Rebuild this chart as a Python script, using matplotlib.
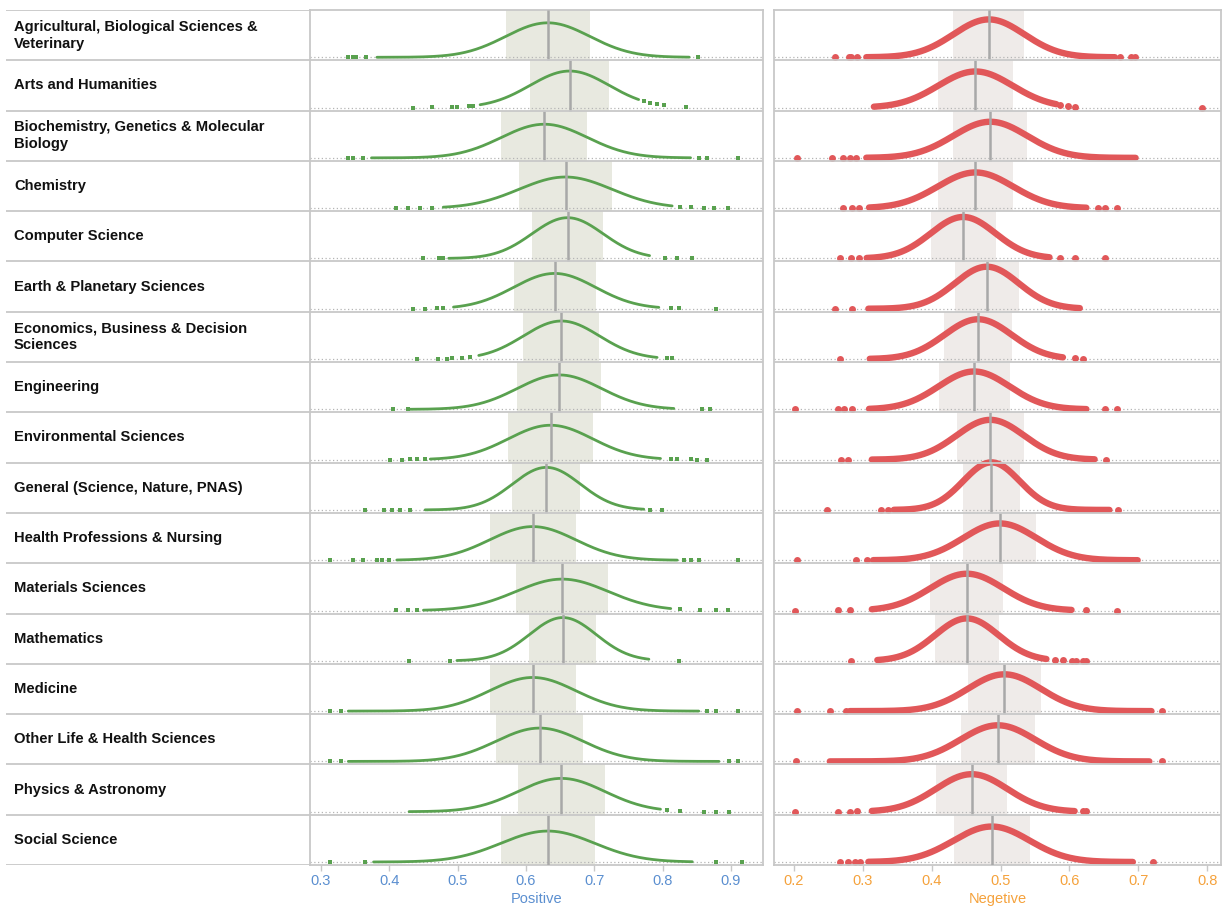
import numpy as np
import matplotlib
matplotlib.use("Agg")
import matplotlib.pyplot as plt

categories = [
    "Agricultural, Biological Sciences &\nVeterinary",
    "Arts and Humanities",
    "Biochemistry, Genetics & Molecular\nBiology",
    "Chemistry",
    "Computer Science",
    "Earth & Planetary Sciences",
    "Economics, Business & Decision\nSciences",
    "Engineering",
    "Environmental Sciences",
    "General (Science, Nature, PNAS)",
    "Health Professions & Nursing",
    "Materials Sciences",
    "Mathematics",
    "Medicine",
    "Other Life & Health Sciences",
    "Physics & Astronomy",
    "Social Science",
]

# Positive score: mean, standard deviation, dense range and isolated points
pos_mean = [0.632, 0.664, 0.627, 0.658, 0.661, 0.642, 0.652, 0.649, 0.636,
            0.630, 0.610, 0.653, 0.654, 0.610, 0.620, 0.652, 0.632]
pos_sd = [0.0615, 0.058, 0.063, 0.068, 0.052, 0.060, 0.0557, 0.0616, 0.0616,
          0.0498, 0.063, 0.0675, 0.049, 0.063, 0.0636, 0.0636, 0.0685]
pos_lo = [0.382, 0.533, 0.374, 0.479, 0.487, 0.494, 0.531, 0.4305, 0.460,
          0.4525, 0.411, 0.450, 0.499, 0.340, 0.340, 0.429, 0.377]
pos_hi = [0.839, 0.765, 0.841, 0.814, 0.781, 0.7945, 0.792, 0.8165, 0.797,
          0.7725, 0.8215, 0.812, 0.780, 0.853, 0.8825, 0.797, 0.8435]
pos_pts = [
    [0.340, 0.347, 0.352, 0.366, 0.852],
    [0.435, 0.462, 0.492, 0.499, 0.516, 0.523, 0.7725, 0.782, 0.792, 0.802, 0.835],
    [0.340, 0.3465, 0.362, 0.853, 0.8655, 0.911],
    [0.410, 0.428, 0.445, 0.462, 0.826, 0.841, 0.861, 0.875, 0.896],
    [0.449, 0.4735, 0.479, 0.804, 0.8215, 0.8435],
    [0.435, 0.4525, 0.470, 0.479, 0.813, 0.824, 0.878],
    [0.441, 0.472, 0.484, 0.4915, 0.506, 0.518, 0.807, 0.814],
    [0.406, 0.428, 0.858, 0.869],
    [0.401, 0.418, 0.4305, 0.440, 0.4525, 0.812, 0.8215, 0.841, 0.851, 0.8655],
    [0.3645, 0.392, 0.4035, 0.416, 0.4305, 0.782, 0.7995],
    [0.314, 0.347, 0.362, 0.382, 0.390, 0.399, 0.831, 0.841, 0.853, 0.911],
    [0.410, 0.428, 0.440, 0.826, 0.8555, 0.878, 0.896],
    [0.429, 0.489, 0.824],
    [0.314, 0.330, 0.8655, 0.878, 0.911],
    [0.314, 0.330, 0.897, 0.911],
    [0.807, 0.826, 0.861, 0.878, 0.897],
    [0.314, 0.3645, 0.878, 0.916],
]

# Negative score
neg_mean = [0.483, 0.4635, 0.485, 0.4635, 0.4456, 0.480, 0.4674, 0.4615, 0.485,
            0.4867, 0.499, 0.451, 0.451, 0.5055, 0.496, 0.458, 0.487]
neg_sd = [0.0515, 0.054, 0.054, 0.0546, 0.047, 0.0464, 0.049, 0.0515, 0.049,
          0.041, 0.053, 0.053, 0.046, 0.053, 0.054, 0.052, 0.055]
neg_lo = [0.305, 0.316, 0.305, 0.309, 0.3055, 0.308, 0.310, 0.309, 0.313,
          0.345, 0.315, 0.313, 0.321, 0.281, 0.252, 0.313, 0.308]
neg_hi = [0.666, 0.581, 0.696, 0.6245, 0.571, 0.615, 0.5905, 0.6245, 0.6365,
          0.658, 0.699, 0.603, 0.5665, 0.719, 0.716, 0.6075, 0.692]
neg_pts = [
    [0.260, 0.280, 0.2835, 0.2917, 0.674, 0.690, 0.695],
    [0.586, 0.598, 0.6075, 0.792],
    [0.205, 0.255, 0.271, 0.281, 0.290],
    [0.271, 0.284, 0.295, 0.641, 0.652, 0.669],
    [0.267, 0.283, 0.295, 0.586, 0.6075, 0.6515],
    [0.260, 0.284],
    [0.267, 0.6075, 0.619],
    [0.2015, 0.264, 0.2725, 0.284, 0.652, 0.669],
    [0.268, 0.279, 0.6535],
    [0.248, 0.326, 0.337, 0.670],
    [0.205, 0.290, 0.3055],
    [0.2015, 0.264, 0.281, 0.6245, 0.669],
    [0.283, 0.5785, 0.590, 0.603, 0.609, 0.6195, 0.6245],
    [0.205, 0.253, 0.2755, 0.734],
    [0.2025, 0.734],
    [0.2015, 0.264, 0.281, 0.291, 0.6195, 0.6245],
    [0.267, 0.279, 0.288, 0.2957, 0.721],
]

pos_ticks = [0.3, 0.4, 0.5, 0.6, 0.7, 0.8, 0.9]
neg_ticks = [0.2, 0.3, 0.4, 0.5, 0.6, 0.7, 0.8]

W, H = 1225, 911
fig = plt.figure(figsize=(W / 100, H / 100), dpi=100)
TOP, BOT = 10, 865


def frame(x0, x1):
    return [x0 / W, (H - BOT) / H, (x1 - x0) / W, (BOT - TOP) / H]


n = len(categories)
GRID = "#c8c8c8"
FONT = "Liberation Sans"

ax_l = fig.add_axes(frame(6, 310))
ax_l.set_xlim(0, 1)
ax_l.set_ylim(n, 0)
ax_l.axis("off")
for i in range(n + 1):
    ax_l.axhline(i, color=GRID, lw=1.3)
for i, c in enumerate(categories):
    ax_l.text(8 / 304, i + 0.5, c, va="center", ha="left", fontsize=10.6,
              fontweight="bold", family=FONT, color="#111111", linespacing=1.25)


def npdf(x, m, s):
    return np.exp(-0.5 * ((x - m) / s) ** 2) / (s * np.sqrt(2 * np.pi))


def panel(ax, means, sds, los, his, pts, color, band, dens_per_row, lw, ms,
          marker, xlim, ticks, tick_color, title):
    ax.set_xlim(*xlim)
    ax.set_ylim(n, 0)
    for sp in ax.spines.values():
        sp.set_color(GRID)
        sp.set_linewidth(1.3)
    for i in range(1, n):
        ax.axhline(i, color=GRID, lw=1.3, zorder=4)
    for i in range(n):
        m, s = means[i], sds[i]
        base = i + 1 - 0.06
        ax.fill_between([m - s, m + s], i, i + 1, color=band, lw=0, zorder=1)
        ax.plot(xlim, [base, base], color="#b5b5b5", lw=0.9,
                ls=(0, (1, 2)), zorder=1.5)
        xs = np.linspace(los[i], his[i], 400)
        ax.plot(xs, base - npdf(xs, m, s) / dens_per_row, color=color, lw=lw,
                solid_capstyle="round", zorder=2)
        px = np.array(pts[i])
        ax.plot(px, base - npdf(px, m, s) / dens_per_row, ls="none",
                marker=marker, ms=ms, color=color, mew=0, zorder=2)
        ax.vlines(m, i, i + 1, color="#a8a8a8", lw=1.8, zorder=3)
    ax.set_yticks([])
    ax.set_xticks(ticks)
    ax.set_xticklabels([f"{t:.1f}" for t in ticks], family=FONT, fontsize=10.5)
    ax.tick_params(axis="x", length=4, width=1, color=GRID, labelcolor=tick_color,
                   pad=2.5)
    ax.set_xlabel(title, color=tick_color, fontsize=10.5, family=FONT, labelpad=3)


ax_p = fig.add_axes(frame(310, 763))
panel(ax_p, pos_mean, pos_sd, pos_lo, pos_hi, pos_pts, "#59a14f", "#e8e9e0",
      9.47, 2.0, 2.2, "s", (0.284, 0.947), pos_ticks, "#5b8fd0", "Positive")

ax_n = fig.add_axes(frame(774, 1221))
panel(ax_n, neg_mean, neg_sd, neg_lo, neg_hi, neg_pts, "#e15759", "#efebe9",
      10.29, 4.6, 5.0, "o", (0.171, 0.820), neg_ticks, "#f5a23c", "Negetive")

fig.savefig("out.png", dpi=100)
